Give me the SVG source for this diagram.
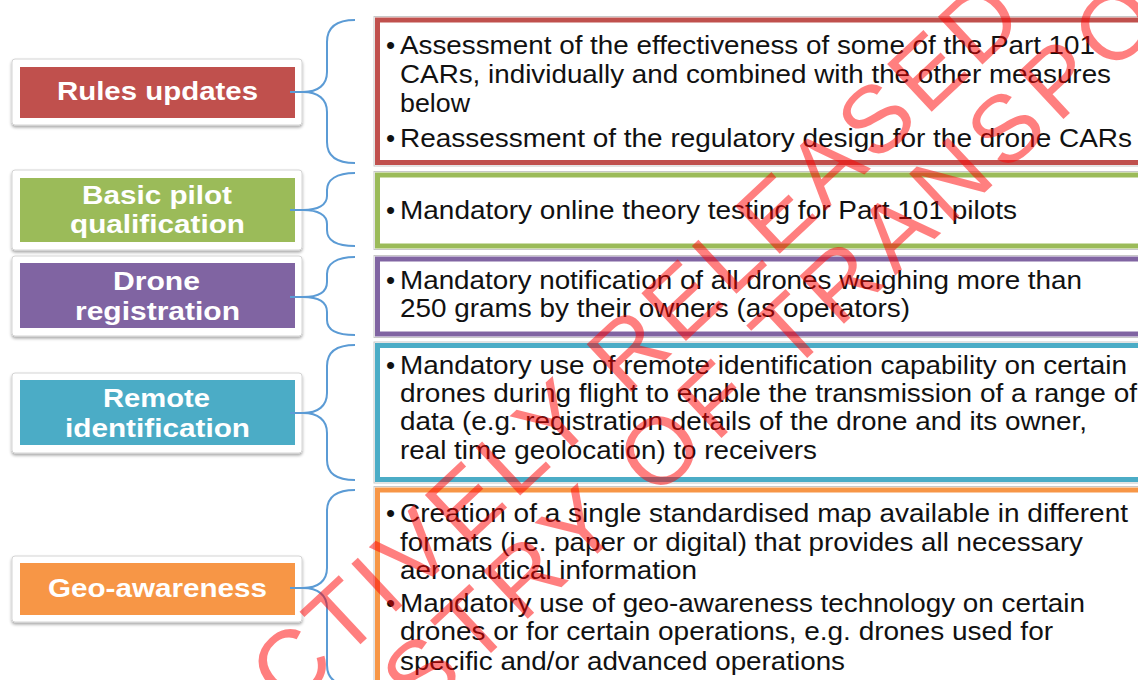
<svg xmlns="http://www.w3.org/2000/svg" width="1138" height="680" viewBox="0 0 1138 680">
<defs>
<filter id="sh" x="-10%" y="-20%" width="120%" height="150%">
<feDropShadow dx="0" dy="2" stdDeviation="1.6" flood-color="#000" flood-opacity="0.35"/>
</filter>
</defs>
<style>
.frame{fill:#fff;stroke:#d4d4d4;stroke-width:1;filter:url(#sh)}
.lbl{font-family:"Liberation Sans",Arial,sans-serif;font-weight:bold;font-size:26px;fill:#fff;text-anchor:middle}
.box{fill:#fff;stroke-width:5}
.gray{fill:none;stroke:#c8c8c8;stroke-width:1}
.t{font-family:"Liberation Sans",Arial,sans-serif;font-size:26px;fill:#111}
.brace{fill:none;stroke:#5b9bd5;stroke-width:2}
.wm{font-family:"Liberation Sans",Arial,sans-serif;font-size:95px;fill:#ff0000;fill-opacity:0.5;letter-spacing:6px}
</style>
<rect width="1138" height="680" fill="#fff"/>

<g id="node-rules">
<rect class="frame" x="12" y="59" width="290" height="66" rx="3"/>
<rect x="20" y="67" width="275" height="51" fill="#c0504d"/>
<text class="lbl" x="157.5" y="100" textLength="201" lengthAdjust="spacingAndGlyphs">Rules updates</text>
</g>
<g id="node-pilot">
<rect class="frame" x="12" y="170" width="290" height="80" rx="3"/>
<rect x="20" y="178" width="275" height="64" fill="#9bbb59"/>
<text class="lbl" x="157" y="204" textLength="150" lengthAdjust="spacingAndGlyphs">Basic pilot</text>
<text class="lbl" x="157.5" y="233" textLength="175" lengthAdjust="spacingAndGlyphs">qualification</text>
</g>
<g id="node-drone">
<rect class="frame" x="12" y="256" width="290" height="80" rx="3"/>
<rect x="20" y="263" width="275" height="65" fill="#8064a2"/>
<text class="lbl" x="156.5" y="290" textLength="87" lengthAdjust="spacingAndGlyphs">Drone</text>
<text class="lbl" x="157.5" y="320" textLength="165" lengthAdjust="spacingAndGlyphs">registration</text>
</g>
<g id="node-remote">
<rect class="frame" x="12" y="373" width="290" height="80" rx="3"/>
<rect x="20" y="380" width="275" height="65" fill="#4bacc6"/>
<text class="lbl" x="156.5" y="407" textLength="107" lengthAdjust="spacingAndGlyphs">Remote</text>
<text class="lbl" x="157.5" y="437" textLength="185" lengthAdjust="spacingAndGlyphs">identification</text>
</g>
<g id="node-geo">
<rect class="frame" x="12" y="556" width="290" height="66" rx="3"/>
<rect x="20" y="563" width="275" height="52" fill="#f79646"/>
<text class="lbl" x="157.5" y="597" textLength="219" lengthAdjust="spacingAndGlyphs">Geo-awareness</text>
</g>

<g id="connectors">
<path class="brace" d="M355,20 C336,20 327,27 327,42 L327,72 C327,85 318,92 303,92 L290,92 M303,92 C318,92 327,99 327,112 L327,142 C327,156 336,163 355,163"/>
<path class="brace" d="M355,173 C336,173 327,180 327,190 L327,196 C327,205 318,210 303,210 L290,210 M303,210 C318,210 327,215 327,224 L327,230 C327,240 336,246 355,246"/>
<path class="brace" d="M355,257 C336,257 327,264 327,274 L327,282 C327,292 318,297 303,297 L290,297 M303,297 C318,297 327,302 327,312 L327,320 C327,330 336,335 355,335"/>
<path class="brace" d="M355,345 C336,345 327,352 327,366 L327,393 C327,406 318,413 303,413 L290,413 M303,413 C318,413 327,420 327,433 L327,460 C327,473 336,480 355,480"/>
<path class="brace" d="M355,490 C336,490 327,497 327,511 L327,568 C327,581 318,588 303,588 L290,588 M303,588 C318,588 327,595 327,608 L327,665 C327,679 336,686 355,686"/>
</g>

<g id="box-rules">
<rect class="gray" x="374" y="16.5" width="800" height="149.5"/>
<rect class="box" x="377.5" y="20" width="800" height="142.5" stroke="#c0504d"/>
<text class="t" x="386" y="54">•</text>
<text class="t" x="400" y="54" textLength="695" lengthAdjust="spacingAndGlyphs">Assessment of the effectiveness of some of the Part 101</text>
<text class="t" x="400" y="83" textLength="711" lengthAdjust="spacingAndGlyphs">CARs, individually and combined with the other measures</text>
<text class="t" x="400" y="111.5" textLength="70" lengthAdjust="spacingAndGlyphs">below</text>
<text class="t" x="386" y="147">•</text>
<text class="t" x="400" y="147" textLength="732" lengthAdjust="spacingAndGlyphs">Reassessment of the regulatory design for the drone CARs</text>
</g>
<g id="box-pilot">
<rect class="gray" x="374" y="171.5" width="800" height="78"/>
<rect class="box" x="377.5" y="175" width="800" height="71" stroke="#9bbb59"/>
<text class="t" x="386" y="218.5">•</text>
<text class="t" x="400" y="218.5" textLength="617" lengthAdjust="spacingAndGlyphs">Mandatory online theory testing for Part 101 pilots</text>
</g>
<g id="box-drone">
<rect class="gray" x="374" y="255.5" width="800" height="82"/>
<rect class="box" x="377.5" y="259" width="800" height="75" stroke="#8064a2"/>
<text class="t" x="386" y="288.5">•</text>
<text class="t" x="400" y="288.5" textLength="682" lengthAdjust="spacingAndGlyphs">Mandatory notification of all drones weighing more than</text>
<text class="t" x="400" y="317" textLength="510" lengthAdjust="spacingAndGlyphs">250 grams by their owners (as operators)</text>
</g>
<g id="box-remote">
<rect class="gray" x="374" y="342" width="800" height="141"/>
<rect class="box" x="377.5" y="345.5" width="800" height="134" stroke="#4bacc6"/>
<text class="t" x="386" y="373.5">•</text>
<text class="t" x="400" y="373.5" textLength="727" lengthAdjust="spacingAndGlyphs">Mandatory use of remote identification capability on certain</text>
<text class="t" x="400" y="402" textLength="737" lengthAdjust="spacingAndGlyphs">drones during flight to enable the transmission of a range of</text>
<text class="t" x="400" y="430" textLength="687" lengthAdjust="spacingAndGlyphs">data (e.g. registration details of the drone and its owner,</text>
<text class="t" x="400" y="458.5" textLength="417" lengthAdjust="spacingAndGlyphs">real time geolocation) to receivers</text>
</g>
<g id="box-geo">
<rect class="gray" x="374" y="486.5" width="800" height="260"/>
<rect class="box" x="377.5" y="490" width="800" height="250" stroke="#f79646"/>
<text class="t" x="386" y="522">•</text>
<text class="t" x="400" y="522" textLength="728" lengthAdjust="spacingAndGlyphs">Creation of a single standardised map available in different</text>
<text class="t" x="400" y="551" textLength="683" lengthAdjust="spacingAndGlyphs">formats (i.e. paper or digital) that provides all necessary</text>
<text class="t" x="400" y="579" textLength="297" lengthAdjust="spacingAndGlyphs">aeronautical information</text>
<text class="t" x="386" y="612">•</text>
<text class="t" x="400" y="612" textLength="685" lengthAdjust="spacingAndGlyphs">Mandatory use of geo-awareness technology on certain</text>
<text class="t" x="400" y="640" textLength="653" lengthAdjust="spacingAndGlyphs">drones or for certain operations, e.g. drones used for</text>
<text class="t" x="400" y="670" textLength="445" lengthAdjust="spacingAndGlyphs">specific and/or advanced operations</text>
</g>

<g id="watermark">
<text class="wm" transform="translate(288,712) rotate(-43)">CTIVELY RELEASED</text>
<text class="wm" transform="translate(420,719) rotate(-43)" style="letter-spacing:9px">STRY OF TRANSPOR</text>
</g>
</svg>
